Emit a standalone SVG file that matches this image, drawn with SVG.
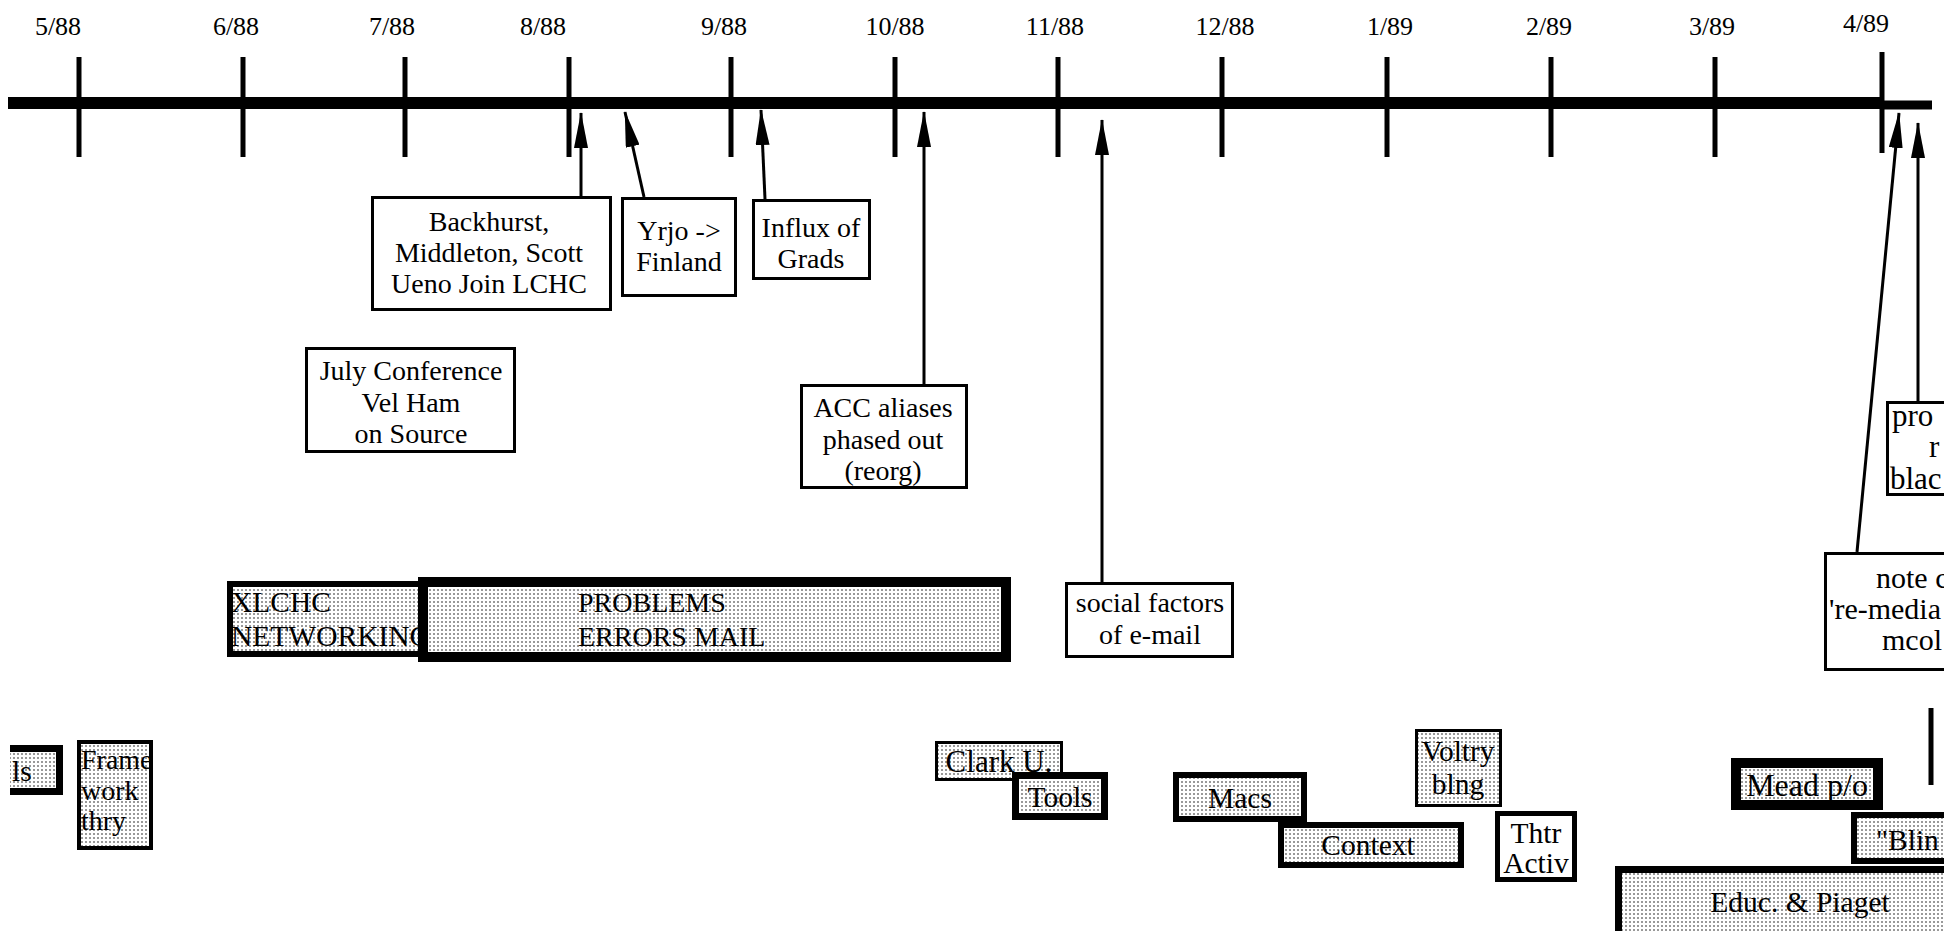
<svg xmlns="http://www.w3.org/2000/svg" width="1944" height="931" viewBox="0 0 1944 931">
<style>
.t{font-family:"Liberation Serif","Times New Roman",serif;font-size:28px;fill:#000}
.b{font-size:29.5px}
.lab{font-family:"Liberation Serif","Times New Roman",serif;font-size:26px;fill:#000;text-anchor:middle}
.c{text-anchor:middle}
.box{fill:#fff;stroke:#000;stroke-width:3}
.wb{fill:#fff;stroke:#000}
.sb{fill:url(#stip);stroke:#000}
.tick{stroke:#000;stroke-width:5}
.conn{stroke:#000;stroke-width:3;fill:none;marker-end:url(#ah)}
</style>
<defs>
<pattern id="stip" width="4" height="4" patternUnits="userSpaceOnUse">
<rect width="4" height="4" fill="#fff"/>
<rect x="1" y="1" width="2" height="2" fill="#999"/>
</pattern>
<marker id="ah" markerUnits="userSpaceOnUse" viewBox="0 0 36 14" markerWidth="36" markerHeight="14" refX="35" refY="7" orient="auto">
<path d="M0,0 L36,7 L0,14 Z" fill="#000"/>
</marker>
</defs>
<rect width="1944" height="931" fill="#fff"/>

<g id="timeline">
<line x1="8" y1="103" x2="1882" y2="103" stroke="#000" stroke-width="12"/>
<line x1="1882" y1="105" x2="1932" y2="105" stroke="#000" stroke-width="9"/>
<line class="tick" x1="79" y1="57" x2="79" y2="157"/>
<line class="tick" x1="243" y1="57" x2="243" y2="157"/>
<line class="tick" x1="405" y1="57" x2="405" y2="157"/>
<line class="tick" x1="569" y1="57" x2="569" y2="157"/>
<line class="tick" x1="731" y1="57" x2="731" y2="157"/>
<line class="tick" x1="895" y1="57" x2="895" y2="157"/>
<line class="tick" x1="1058" y1="57" x2="1058" y2="157"/>
<line class="tick" x1="1222" y1="57" x2="1222" y2="157"/>
<line class="tick" x1="1387" y1="57" x2="1387" y2="157"/>
<line class="tick" x1="1551" y1="57" x2="1551" y2="157"/>
<line class="tick" x1="1715" y1="57" x2="1715" y2="157"/>
<line class="tick" x1="1882" y1="52" x2="1882" y2="153"/>
<text class="lab" x="58" y="35">5/88</text>
<text class="lab" x="236" y="35">6/88</text>
<text class="lab" x="392" y="35">7/88</text>
<text class="lab" x="543" y="35">8/88</text>
<text class="lab" x="724" y="35">9/88</text>
<text class="lab" x="895" y="35">10/88</text>
<text class="lab" x="1055" y="35">11/88</text>
<text class="lab" x="1225" y="35">12/88</text>
<text class="lab" x="1390" y="35">1/89</text>
<text class="lab" x="1549" y="35">2/89</text>
<text class="lab" x="1712" y="35">3/89</text>
<text class="lab" x="1866" y="32">4/89</text>
</g>

<g id="connectors">
<line class="conn" x1="581" y1="196" x2="581" y2="113"/>
<line class="conn" x1="644" y1="197" x2="625" y2="112"/>
<line class="conn" x1="765" y1="199" x2="761" y2="110"/>
<line class="conn" x1="924" y1="384" x2="924" y2="112"/>
<line class="conn" x1="1102" y1="582" x2="1102" y2="120"/>
<line class="conn" x1="1857" y1="552" x2="1899" y2="113"/>
<line class="conn" x1="1918" y1="401" x2="1918" y2="123"/>
</g>

<g id="backhurst">
<rect class="box" x="372.5" y="197.5" width="238" height="112"/>
<text class="t c" x="489" y="231">Backhurst,</text>
<text class="t c" x="489" y="262">Middleton, Scott</text>
<text class="t c" x="489" y="293">Ueno Join LCHC</text>
</g>
<g id="yrjo">
<rect class="box" x="622.5" y="198.5" width="113" height="97"/>
<text class="t c" x="679" y="240">Yrjo -&gt;</text>
<text class="t c" x="679" y="271">Finland</text>
</g>
<g id="influx">
<rect class="box" x="753.5" y="200.5" width="116" height="78"/>
<text class="t c" x="811" y="237">Influx of</text>
<text class="t c" x="811" y="268">Grads</text>
</g>
<g id="july">
<rect class="box" x="306.5" y="348.5" width="208" height="103"/>
<text class="t c" x="411" y="380">July Conference</text>
<text class="t c" x="411" y="412">Vel Ham</text>
<text class="t c" x="411" y="443">on Source</text>
</g>
<g id="acc">
<rect class="box" x="801.5" y="385.5" width="165" height="102"/>
<text class="t c" x="883" y="417">ACC aliases</text>
<text class="t c" x="883" y="449">phased out</text>
<text class="t c" x="883" y="480">(reorg)</text>
</g>
<g id="social">
<rect class="box" x="1066.5" y="583.5" width="166" height="73"/>
<text class="t c" x="1150" y="612">social factors</text>
<text class="t c" x="1150" y="644">of e-mail</text>
</g>
<g id="pro">
<rect class="box" x="1887.5" y="402.5" width="71" height="92"/>
<text class="t" style="font-size:31px" x="1892" y="426">pro</text>
<text class="t" style="font-size:31px" x="1929" y="457">r</text>
<text class="t" style="font-size:31px" x="1890" y="489">blac</text>
</g>
<g id="note">
<rect class="box" x="1825.5" y="553.5" width="133" height="116"/>
<text class="t" style="font-size:30px" x="1876" y="588">note c</text>
<text class="t" style="font-size:30px" x="1829" y="619">'re-media</text>
<text class="t" style="font-size:30px" x="1882" y="650">mcol</text>
</g>

<g id="xlchc">
<rect class="sb" stroke-width="6" x="230" y="584" width="192" height="70"/>
<text class="t" style="font-size:29.5px" x="231" y="612">XLCHC</text>
<text class="t" style="font-size:29.5px" x="231" y="646">NETWORKING</text>
</g>
<g id="problems">
<rect class="sb" stroke-width="10" x="423" y="582" width="583" height="75"/>
<text class="t" x="578" y="612">PROBLEMS</text>
<text class="t" x="578" y="646">ERRORS MAIL</text>
</g>

<g id="ls">
<rect x="10" y="745" width="50" height="50" fill="url(#stip)"/>
<path d="M10,748.5 H59.5 V791.5 H10" fill="none" stroke="#000" stroke-width="7"/>
<text class="t b" x="12" y="781">ls</text>
</g>
<g id="frame">
<rect x="79" y="742" width="72" height="106" fill="url(#stip)"/>
<text class="t" x="81" y="769">Frame</text>
<text class="t" x="81" y="800">work</text>
<text class="t" x="81" y="830">thry</text>
<rect x="79" y="742" width="72" height="106" fill="none" stroke="#000" stroke-width="4"/>
</g>
<g id="clark">
<rect class="sb" stroke-width="3" x="936.5" y="742.5" width="125" height="37"/>
<text class="t" style="font-size:31px" x="999" y="772" text-anchor="middle">Clark U.</text>
</g>
<g id="tools">
<rect class="sb" stroke-width="7" x="1015.5" y="775.5" width="89" height="41"/>
<text class="t b c" x="1060" y="807">Tools</text>
</g>
<g id="macs">
<rect class="sb" stroke-width="6" x="1176" y="775" width="128" height="44"/>
<text class="t b c" x="1240" y="808">Macs</text>
</g>
<g id="context">
<rect class="sb" stroke-width="6" x="1281" y="825" width="180" height="40"/>
<text class="t b c" x="1368" y="855">Context</text>
</g>
<g id="voltry">
<rect class="sb" stroke-width="3" x="1416.5" y="730.5" width="84" height="75"/>
<text class="t b c" x="1458" y="761">Voltry</text>
<text class="t b c" x="1458" y="794">blng</text>
</g>
<g id="thtr">
<rect class="wb" stroke-width="5" x="1497.5" y="813.5" width="77" height="66"/>
<text class="t b c" x="1536" y="843">Thtr</text>
<text class="t b c" x="1536" y="873">Activ</text>
</g>
<g id="mead">
<rect class="sb" stroke-width="10" x="1736" y="763" width="142" height="42"/>
<text class="t" style="font-size:32px" x="1807" y="796" text-anchor="middle">Mead p/o</text>
</g>
<g id="blin">
<rect class="sb" stroke-width="6" x="1854" y="815" width="110" height="46"/>
<text class="t b" x="1876" y="850">"Blin</text>
</g>
<g id="educ">
<rect class="sb" stroke-width="7" x="1618.5" y="869.5" width="345" height="70"/>
<text class="t b c" x="1800" y="912">Educ. &amp; Piaget</text>
</g>
<g id="bar">
<line x1="1931" y1="708" x2="1931" y2="785" stroke="#000" stroke-width="5"/>
</g>
</svg>
